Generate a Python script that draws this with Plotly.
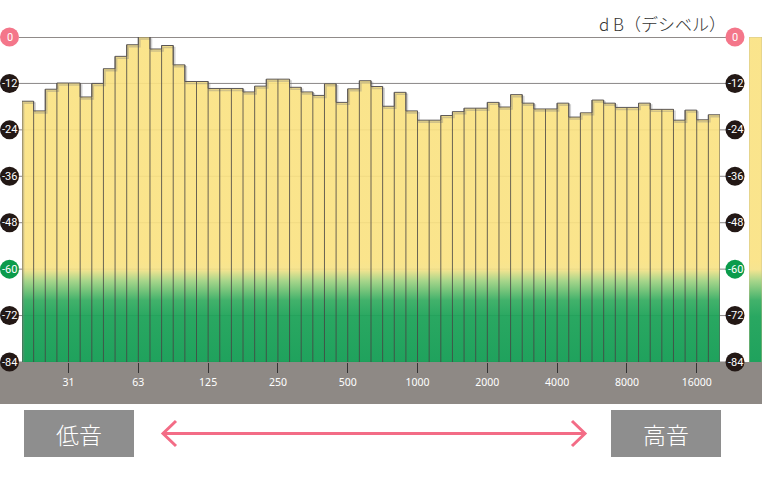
import plotly.graph_objects as go

# ---- data ----
band_levels_db = [-16.6, -19.1, -13.5, -11.9, -11.9, -15.5, -12.0, -8.2, -5.0, -2.0,
                  0.0, -3.1, -2.2, -7.2, -11.5, -11.5, -13.3, -13.3, -13.3, -14.2,
                  -12.7, -10.9, -10.9, -13.0, -14.2, -15.1, -12.1, -16.9, -13.4, -11.3,
                  -12.8, -17.9, -14.3, -19.1, -21.5, -21.5, -20.3, -19.3, -18.4, -18.4,
                  -16.9, -18.1, -14.9, -17.1, -18.6, -18.6, -17.1, -20.7, -19.6, -16.3,
                  -17.1, -18.2, -18.2, -17.1, -18.7, -18.7, -21.5, -18.9, -21.4, -20.1]
freq_labels = ["31", "63", "125", "250", "500", "1000", "2000", "4000", "8000", "16000"]
freq_label_band_edge = [4, 10, 16, 22, 28, 34, 40, 46, 52, 58]   # band index where each label sits
db_ticks = [0, -12, -24, -36, -48, -60, -72, -84]
db_min, db_max = -84, 0

W, H = 762, 480
PLOT_TOP, PLOT_BOTTOM = 37, 362
PLOT_LEFT, PLOT_RIGHT = 22, 720
PH = PLOT_BOTTOM - PLOT_TOP


def px(x):
    return x / W


def py(y):
    return (PLOT_BOTTOM - y) / PH


n = len(band_levels_db)
idx = list(range(n))

grad = [[0.0, "rgba(22,158,86,0.96)"], [0.14, "rgba(30,163,89,0.95)"],
        [0.19, "rgba(52,172,96,0.93)"], [0.25, "rgba(160,210,128,0.92)"],
        [0.285, "rgba(245,226,135,0.92)"], [0.31, "rgba(250,226,130,0.92)"],
        [1.0, "rgba(250,226,130,0.92)"]]

# step outline derived from the band levels
poly_x, poly_y = [idx[0] - 0.5], [db_min]
for i, v in zip(idx, band_levels_db):
    poly_x += [i - 0.5, i + 0.5]
    poly_y += [v, v]
poly_x.append(idx[-1] + 0.5)
poly_y.append(db_min)

# separators between neighbouring bands
sep_x, sep_y = [], []
for i in range(1, n):
    sep_x += [i - 0.5, i - 0.5, None]
    sep_y += [db_min, max(band_levels_db[i - 1], band_levels_db[i]), None]

fig = go.Figure()
fig.add_trace(go.Scatter(
    x=poly_x, y=poly_y, mode="lines", fill="toself", line=dict(width=0),
    fillgradient=dict(type="vertical", colorscale=grad, start=db_min, stop=db_max),
    hoverinfo="skip", showlegend=False))
# soft shadow below/right of the outlines
fig.add_trace(go.Scatter(
    x=[x + 0.13 if x is not None else None for x in poly_x],
    y=[y - 0.5 if y is not None else None for y in poly_y],
    mode="lines", line=dict(color="rgba(130,130,130,0.35)", width=1.6),
    hoverinfo="skip", showlegend=False))
fig.add_trace(go.Scatter(
    x=sep_x, y=sep_y, mode="lines", line=dict(color="rgba(70,66,66,0.8)", width=1),
    hoverinfo="skip", showlegend=False))
fig.add_trace(go.Scatter(
    x=poly_x, y=poly_y, mode="lines", line=dict(color="#5a5656", width=1),
    hoverinfo="skip", showlegend=False))

# legend colour strip on the right
fig.add_trace(go.Scatter(
    x=[0, 0, 1, 1], y=[db_min, db_max, db_max, db_min], xaxis="x2", yaxis="y",
    mode="lines", fill="toself", line=dict(width=1, color="rgba(200,190,140,0.8)"),
    fillgradient=dict(type="vertical", colorscale=grad, start=db_min, stop=db_max),
    hoverinfo="skip", showlegend=False))

shapes = []
annotations = []

# grey frequency band
shapes.append(dict(type="rect", xref="paper", yref="paper", x0=0, x1=1,
                   y0=py(404), y1=py(PLOT_BOTTOM), fillcolor="#8e8985",
                   line=dict(width=0), layer="below"))

# horizontal dB lines
for t in db_ticks:
    if t == 0:
        col, wd = "#231815", 1.2
    else:
        col, wd = "#8a8686", 1
    shapes.append(dict(type="line", xref="paper", yref="y", x0=px(19), x1=px(726),
                       y0=t, y1=t, line=dict(color=col, width=wd), layer="below"))

# badges on both sides
for t in db_ticks:
    yy = PLOT_TOP + (db_max - t) / (db_max - db_min) * PH
    if t == 0:
        col = "#f4768a"
    elif t == -60:
        col = "#0b9b4b"
    else:
        col = "#231815"
    for cx in (9.5, 735):
        shapes.append(dict(type="circle", xref="paper", yref="paper",
                           x0=px(cx - 9.5), x1=px(cx + 9.5), y0=py(yy + 9.5), y1=py(yy - 9.5),
                           fillcolor=col, line=dict(width=0), layer="below"))
        annotations.append(dict(xref="paper", yref="paper", x=px(cx), y=py(yy),
                                xanchor="center", yanchor="middle",
                                text=str(t), showarrow=False,
                                font=dict(family="Roboto", size=11, color="white")))

# low / high boxes
for x0, x1, label in ((24, 134, "低音"), (611, 721, "高音")):
    shapes.append(dict(type="rect", xref="paper", yref="paper", x0=px(x0), x1=px(x1),
                       y0=py(457), y1=py(410), fillcolor="#8e8e8e", line=dict(width=0)))
    annotations.append(dict(xref="paper", yref="paper", x=px((x0 + x1) / 2), y=py(434),
                            xanchor="center", yanchor="middle",
                            text=label, showarrow=False,
                            font=dict(family="Noto Sans CJK JP", size=23, color="white",
                                      weight=300)))

# double arrow
pink = "#f36c86"
shapes.append(dict(type="line", xref="paper", yref="paper", x0=px(163), x1=px(584),
                   y0=py(433.5), y1=py(433.5), line=dict(color=pink, width=3)))
for tip, back in ((163, 176), (585, 572)):
    shapes.append(dict(type="path", xref="paper", yref="paper",
                       path=f"M {px(back)} {py(421)} L {px(tip)} {py(433.5)} L {px(back)} {py(446)}",
                       line=dict(color=pink, width=3)))

# unit title
annotations.append(dict(xref="paper", yref="paper", x=px(728), y=py(23),
                        xanchor="right", yanchor="middle",
                        text="d B（デシベル）", showarrow=False,
                        font=dict(family="Noto Sans CJK JP", size=17, color="#333333",
                                  weight=300)))

fig.update_layout(
    width=W, height=H,
    margin=dict(l=0, r=0, t=PLOT_TOP, b=H - PLOT_BOTTOM, pad=0),
    paper_bgcolor="white", plot_bgcolor="rgba(0,0,0,0)",
    showlegend=False,
    xaxis=dict(domain=[px(PLOT_LEFT), px(PLOT_RIGHT)], range=[-0.5, n - 0.5],
               tickvals=[e - 0.5 for e in freq_label_band_edge], ticktext=freq_labels,
               ticks="outside", ticklen=10, tickcolor="#333333", tickwidth=1,
               tickfont=dict(family="Noto Sans", size=10.5, color="white"),
               showgrid=False, zeroline=False, showline=False, fixedrange=True),
    xaxis2=dict(domain=[px(749), 1.0], range=[0, 1], visible=False, anchor="y"),
    yaxis=dict(range=[db_min, db_max], showgrid=False, zeroline=False,
               showticklabels=False, ticks="", showline=False),
    shapes=shapes, annotations=annotations,
)

fig.write_html("out.html", config={"displayModeBar": False},
               post_script="document.body.style.margin='0';")
